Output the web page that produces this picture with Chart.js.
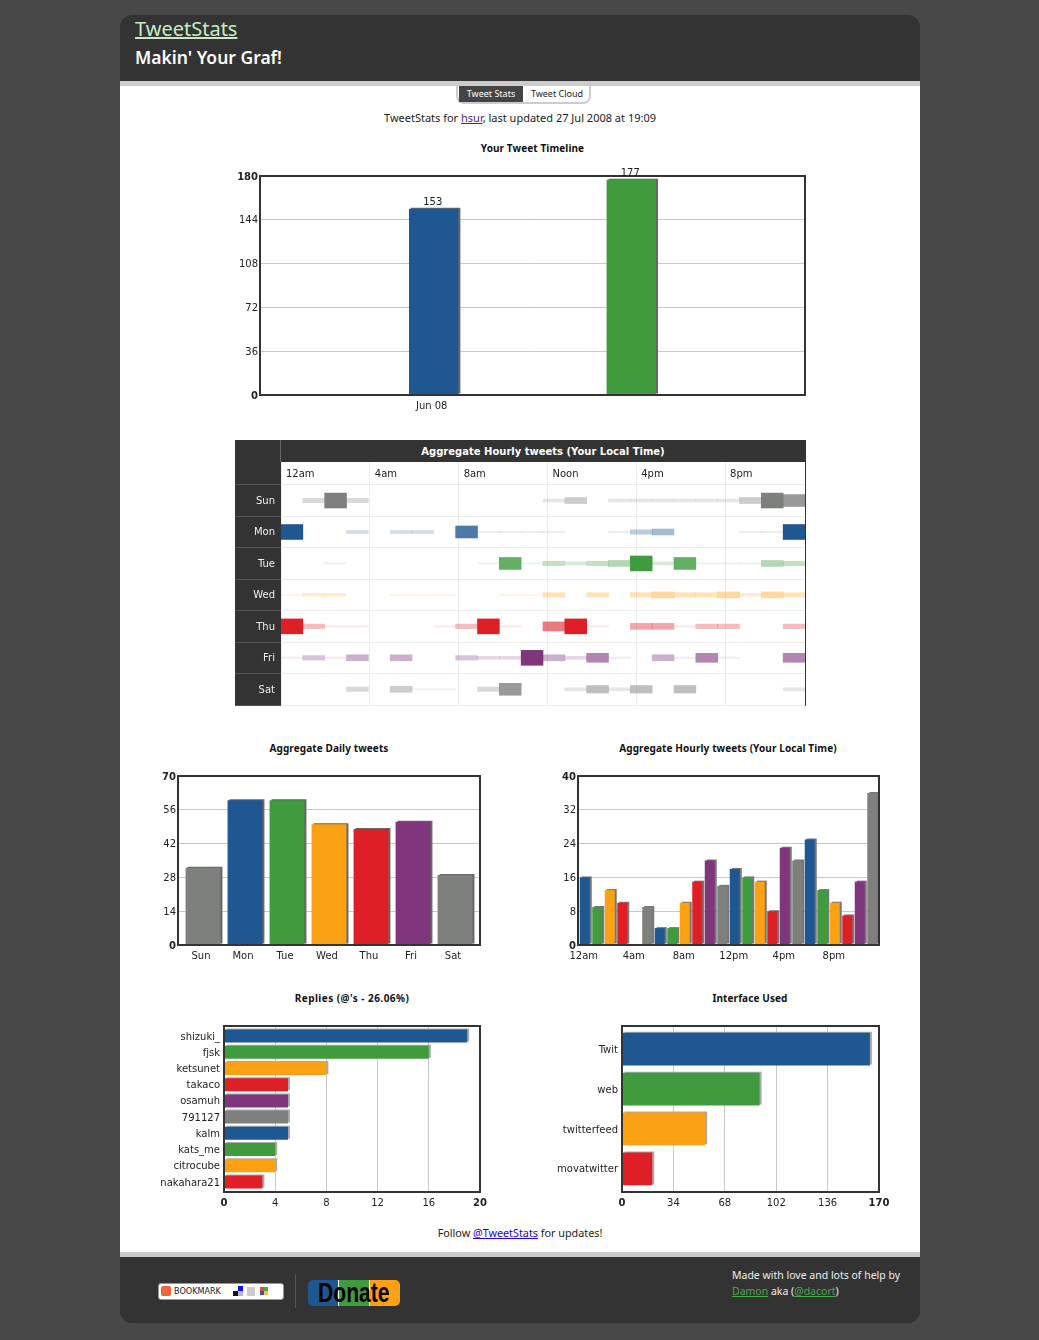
<!DOCTYPE html>
<html>
<head>
<meta charset="utf-8">
<title>TweetStats</title>
<script src="https://cdn.jsdelivr.net/npm/chart.js@4"></script>
<style>
html, body { margin: 0; padding: 0; background: #484848; }
body { position: relative; width: 1039px; height: 1340px; overflow: hidden; font-family: 'Noto Sans', sans-serif; font-size: 11px; color: #222; }
.abs { position: absolute; }
canvas { position: absolute; }
#head { left: 120px; top: 15px; width: 800px; height: 66px; background: #333; border-radius: 12px 12px 0 0; }
#head a { position: absolute; left: 15px; top: 0; font-size: 20px; color: #c6edc2; text-decoration: underline; }
#head b { position: absolute; left: 15px; top: 30px; font-size: 17.5px; font-weight: 600; color: #fff; }
#page { left: 120px; top: 81px; width: 800px; height: 1171px; background: #fff; border-top: 5px solid #ccc; }
#foot { left: 120px; top: 1252px; width: 800px; height: 66px; background: #333; border-top: 5px solid #ccc; border-radius: 0 0 12px 12px; }
#tabs { left: 456px; top: 86px; width: 131px; height: 16px; border: 2px solid #ccc; border-top: 0; border-radius: 0 0 8px 8px; background: #fff; font-size: 9px; line-height: 15px; }
#tabs span { position: absolute; top: 0; height: 16px; text-align: center; }
.center { width: 800px; left: 120px; text-align: center; }
.title { font-weight: 700; font-size: 10px; color: #111; text-align: center; letter-spacing: 0.1px; }
a.lnk { color: #2200dd; }
#punch { left: 235px; top: 440px; width: 571px; height: 266px; background: #333; }
#punchPlot { left: 46px; top: 22px; width: 524px; height: 243px; background: #fff; }
#punchTitle { left: 46px; top: 6px; width: 524px; color: #fff; font: bold 10px 'DejaVu Sans', sans-serif; text-align: center; }
#bookmark { left: 158px; top: 1283px; width: 124px; height: 15px; background: #fff; border: 1px solid #999; border-radius: 3px; font: 9px/15px 'DejaVu Sans Condensed', 'DejaVu Sans', sans-serif; color: #222; }
#bookmark i { position: absolute; display: block; }
#donate { left: 308px; top: 1280px; width: 92px; height: 26px; border-radius: 5px; background: linear-gradient(90deg, #1f5792 0 30px, #fff 30px 31px, #3f9b3e 31px 61px, #fff 61px 62px, #fca113 62px); color: #000; text-align: center; overflow: hidden; }
#donate span { display: inline-block; font: bold 27px/26px 'Liberation Sans', sans-serif; transform: scaleX(0.78); }
#madeby { left: 732px; top: 1267px; width: 180px; color: #eee; line-height: 16px; font-size: 10.5px; }
#madeby a { color: #4aa84a; }
</style>
</head>
<body>
<div class="abs" id="head"><a>TweetStats</a><b>Makin' Your Graf!</b></div>
<div class="abs" id="page"></div>
<div class="abs" id="foot"></div>

<div class="abs" id="tabs">
    <span style="left:1px;width:64px;background:#444;color:#fff">Tweet Stats</span>
    <span style="left:67px;width:64px;color:#222">Tweet Cloud</span>
</div>
<div class="abs center" style="top:110px">TweetStats for <a class="lnk" style="color:#551a8b;text-decoration:underline">hsur</a>, last updated 27 Jul 2008 at 19:09</div>

<div class="abs title" style="left:260px;top:141px;width:545px">Your Tweet Timeline</div>
<canvas id="timeline" width="625" height="255" style="left:200px;top:160px"></canvas>

<div class="abs" id="punch">
    <div class="abs" id="punchPlot"></div>
    <div class="abs" style="left:45px;top:0;width:1px;height:22px;background:#666"></div>
    <div class="abs" id="punchTitle">Aggregate Hourly tweets (Your Local Time)</div>
    <canvas id="heat" width="571" height="266" style="left:0;top:0"></canvas>
</div>

<div class="abs title" style="left:178px;top:741px;width:302px">Aggregate Daily tweets</div>
<canvas id="daily" width="360" height="205" style="left:138px;top:760px"></canvas>
<div class="abs title" style="left:578px;top:741px;width:300px">Aggregate Hourly tweets (Your Local Time)</div>
<canvas id="hourly" width="360" height="205" style="left:538px;top:760px"></canvas>

<div class="abs title" style="left:224px;top:991px;width:256px;letter-spacing:0.45px">Replies (@'s - 26.06%)</div>
<canvas id="replies" width="354" height="202" style="left:144px;top:1010px"></canvas>
<div class="abs title" style="left:622px;top:991px;width:256px">Interface Used</div>
<canvas id="iface" width="356" height="202" style="left:542px;top:1010px"></canvas>

<div class="abs center" style="top:1225px;font-size:10.8px">Follow <a class="lnk" style="text-decoration:underline">@TweetStats</a> for updates!</div>

<div class="abs" id="bookmark">
    <i style="left:2px;top:2px;width:10px;height:10px;background:#f0663a;border-radius:2px"></i>
    <span style="margin-left:15px">BOOKMARK</span>
    <i style="left:79px;top:2px;width:5px;height:5px;background:#11f"></i>
    <i style="left:74px;top:7px;width:5px;height:5px;background:#111"></i>
    <i style="left:79px;top:7px;width:5px;height:5px;background:#bbb"></i>
    <i style="left:88px;top:3px;width:8px;height:9px;background:#ccc"></i>
    <i style="left:101px;top:3px;width:4px;height:4px;background:#e44"></i>
    <i style="left:105px;top:3px;width:4px;height:4px;background:#4a4"></i>
    <i style="left:101px;top:7px;width:4px;height:4px;background:#44c"></i>
    <i style="left:105px;top:7px;width:4px;height:4px;background:#ec3"></i>
</div>
<div class="abs" style="left:295px;top:1274px;width:1px;height:34px;background:#555"></div>
<div class="abs" id="donate"><span>Donate</span></div>
<div class="abs" id="madeby">Made with love and lots of help by<br><a style="text-decoration:underline">Damon</a> aka (<a style="text-decoration:underline">@dacort</a>)</div>

<script>
// Colours
const BLUE = '#1f5792', GREEN = '#3f9b3e', ORANGE = '#fca113', RED = '#de2026', PURPLE = '#80367d', GRAY = '#7e807e';
const cycle = [BLUE, GREEN, ORANGE, RED, PURPLE, GRAY];

// Data
const timelineLabels = ['Jun 08', ''];
const timelineValues = [153, 177];

const dayLabels = ['Sun', 'Mon', 'Tue', 'Wed', 'Thu', 'Fri', 'Sat'];
const dayValues = [32, 60, 60, 50, 48, 51, 29];
const dayColors = [GRAY, BLUE, GREEN, ORANGE, RED, PURPLE, GRAY];

const hourValues = [16, 9, 13, 10, 0, 9, 4, 4, 10, 15, 20, 14, 18, 16, 15, 8, 23, 20, 25, 13, 10, 7, 15, 36];
const hourTicks = [0, 4, 8, 12, 16, 20];
const hourTickLabels = ['12am', '4am', '8am', '12pm', '4pm', '8pm'];

const replyNames = ['shizuki_', 'fjsk', 'ketsunet', 'takaco', 'osamuh', '791127', 'kalm', 'kats_me', 'citrocube', 'nakahara21'];
const replyValues = [19, 16, 8, 5, 5, 5, 5, 4, 4, 3];

const clientNames = ['Twit', 'web', 'twitterfeed', 'movatwitter'];
const clientValues = [164, 91, 55, 20];

// Punch card, strength of each hour per weekday (0 = no cell, 10 = full)
const heatTicks = [0, 4, 8, 12, 16, 20];
const heatTickLabels = ['12am', '4am', '8am', 'Noon', '4pm', '8pm'];
const sunHours = [0, 3, 10, 3, 0, 0, 0, 0, 0, 0, 0, 0, 2, 4, 0, 2, 2, 2, 2, 2, 2, 4, 10, 8];
const monHours = [10, 0, 0, 2, 0, 2, 2, 0, 8, 1, 1, 1, 1, 0, 0, 1, 3, 4, 0, 0, 0, 1, 1, 10];
const tueHours = [0, 0, 1, 0, 0, 0, 0, 0, 0, 1, 8, 1, 3, 2, 3, 4, 10, 2, 8, 1, 1, 1, 4, 3];
const wedHours = [1, 2, 2, 0, 0, 1, 1, 1, 0, 0, 1, 1, 3, 0, 3, 0, 3, 4, 3, 3, 4, 2, 4, 3];
const thuHours = [10, 3, 1, 1, 0, 0, 0, 1, 3, 10, 1, 0, 6, 10, 1, 0, 4, 4, 1, 3, 3, 0, 0, 3];
const friHours = [1, 3, 1, 4, 0, 4, 0, 0, 3, 2, 2, 10, 4, 2, 6, 1, 0, 4, 1, 6, 1, 0, 0, 6];
const satHours = [0, 0, 0, 3, 0, 4, 1, 1, 0, 3, 8, 0, 0, 2, 5, 2, 5, 0, 5, 0, 0, 0, 0, 2];
const hoursByDay = [sunHours, monHours, tueHours, wedHours, thuHours, friHours, satHours];

const TICK_FONT = "'DejaVu Sans', sans-serif";

// grey edge behind every bar
Chart.register({
    id: 'barShadow',
    beforeDatasetDraw(chart, args, opts) {
        const ctx = chart.ctx;
        ctx.save();
        ctx.shadowColor = opts.color;
        ctx.shadowBlur = 0;
        ctx.shadowOffsetX = 2;
        ctx.shadowOffsetY = -1;
    },
    afterDatasetDraw(chart) {
        chart.ctx.restore();
    }
});

// dark box round the plot
Chart.register({
    id: 'plotFrame',
    afterDatasetsDraw(chart) {
        const a = chart.chartArea, ctx = chart.ctx;
        ctx.save();
        ctx.strokeStyle = '#333';
        ctx.lineWidth = 2;
        ctx.strokeRect(a.left, a.top, a.right - a.left, a.bottom - a.top);
        ctx.restore();
    }
});

// number on top of each bar, timeline only
const valueLabels = {
    id: 'valueLabels',
    afterDraw(chart) {
        const ctx = chart.ctx;
        ctx.save();
        ctx.font = '10px ' + TICK_FONT;
        ctx.fillStyle = '#222';
        ctx.textAlign = 'center';
        chart.getDatasetMeta(0).data.forEach((bar, i) => {
            ctx.fillText(timelineValues[i], bar.x - 1, bar.y - 4);
        });
        ctx.restore();
    }
};

function makeBarChart(id, o) {
    const catAxis = o.horizontal ? 'y' : 'x';
    const valAxis = o.horizontal ? 'x' : 'y';
    const lastValue = o.max;
    const tickColor = '#222';

    return new Chart(document.getElementById(id), {
        type: 'bar',
        plugins: o.plugins || [],
        data: {
            labels: o.values.map((v, i) => i),
            datasets: [{
                data: o.values,
                backgroundColor: o.colors,
                barPercentage: o.barPct,
                categoryPercentage: 1
            }]
        },
        options: {
            indexAxis: catAxis,
            responsive: false,
            animation: false,
            layout: { padding: { top: o.padTop, right: o.padRight, left: 0, bottom: 0 } },
            plugins: {
                legend: { display: false },
                tooltip: { enabled: false },
                title: { display: false },
                barShadow: { color: o.shadow }
            },
            scales: {
                [catAxis]: {
                    type: 'linear',
                    offset: false,
                    min: o.catMin,
                    max: o.catMax,
                    reverse: !!o.horizontal,
                    grid: { display: false, drawTicks: false, offset: false },
                    border: { display: false },
                    afterBuildTicks: axis => { axis.ticks = o.tickAt.map(v => ({ value: v })); },
                    afterFit: axis => {
                        if (o.horizontal) axis.width = o.axisW; else axis.height = o.axisH;
                    },
                    ticks: {
                        autoSkip: false,
                        maxRotation: 0,
                        padding: o.horizontal ? 4 : 5,
                        labelOffset: o.labelShift,
                        color: tickColor,
                        font: { family: TICK_FONT, size: 10 },
                        callback: v => o.tickText[o.tickAt.indexOf(v)]
                    }
                },
                [valAxis]: {
                    min: 0,
                    max: o.max,
                    grid: { color: '#c8c8c8', drawTicks: false },
                    border: { display: false },
                    afterFit: axis => {
                        if (o.horizontal) axis.height = o.axisH; else axis.width = o.axisW;
                    },
                    ticks: {
                        stepSize: o.step,
                        padding: o.horizontal ? 5 : 2,
                        labelOffset: o.horizontal ? 0 : 1,
                        color: tickColor,
                        font: ctx => {
                            const ends = ctx.tick && (ctx.tick.value === 0 || ctx.tick.value === lastValue);
                            return { family: TICK_FONT, size: 10, weight: ends ? 'bold' : 'normal' };
                        }
                    }
                }
            }
        }
    });
}

makeBarChart('timeline', {
    values: timelineValues, colors: [BLUE, GREEN], shadow: '#666',
    tickAt: [0, 1], tickText: timelineLabels,
    catMin: -0.879, catMax: 1.879, barPct: 0.25, labelShift: -2,
    max: 180, step: 36,
    axisW: 60, axisH: 20, padTop: 16, padRight: 20,
    plugins: [valueLabels]
});

makeBarChart('daily', {
    values: dayValues, colors: dayColors, shadow: '#666',
    tickAt: dayValues.map((v, i) => i), tickText: dayLabels,
    catMin: -0.595, catMax: 6.595, barPct: 0.83, labelShift: -2,
    max: 70, step: 14,
    axisW: 40, axisH: 20, padTop: 16, padRight: 18
});

makeBarChart('hourly', {
    values: hourValues, colors: hourValues.map((v, i) => cycle[i % cycle.length]), shadow: '#777',
    tickAt: hourTicks, tickText: hourTickLabels,
    catMin: -0.54, catMax: 23.54, barPct: 0.8, labelShift: -1,
    max: 40, step: 8,
    axisW: 40, axisH: 20, padTop: 16, padRight: 19
});

makeBarChart('replies', {
    horizontal: true,
    values: replyValues, colors: replyValues.map((v, i) => cycle[i % cycle.length]), shadow: '#aaa',
    tickAt: replyValues.map((v, i) => i), tickText: replyNames,
    catMin: -0.617, catMax: 9.617, barPct: 0.8, labelShift: 1,
    max: 20, step: 4,
    axisW: 80, axisH: 20, padTop: 16, padRight: 18
});

makeBarChart('iface', {
    horizontal: true,
    values: clientValues, colors: cycle, shadow: '#aaa',
    tickAt: clientValues.map((v, i) => i), tickText: clientNames,
    catMin: -0.58, catMax: 3.58, barPct: 0.82, labelShift: 1,
    max: 170, step: 34,
    axisW: 80, axisH: 20, padTop: 16, padRight: 19
});

// Punch card: one floating bar per hour, thicker and darker with the value
function withAlpha(hex, a) {
    const n = parseInt(hex.slice(1), 16);
    return `rgba(${n >> 16}, ${(n >> 8) & 255}, ${n & 255}, ${a})`;
}

new Chart(document.getElementById('heat'), {
    type: 'bar',
    data: {
        labels: sunHours.map((v, i) => i + 0.5),
        datasets: hoursByDay.map((hours, row) => ({
            data: hours.map(v => v ? [row + 0.5 - v * 0.0237, row + 0.5 + v * 0.0237] : null),
            backgroundColor: hours.map(v => withAlpha(dayColors[row], v / 10)),
            barPercentage: 1,
            categoryPercentage: 1,
            grouped: false
        }))
    },
    options: {
        responsive: false,
        animation: false,
        layout: { padding: { top: 22, right: 1, bottom: 1, left: 0 } },
        plugins: {
            legend: { display: false },
            tooltip: { enabled: false },
            barShadow: false,
            plotFrame: false
        },
        scales: {
            x: { type: 'linear', offset: false, grid: { offset: false }, min: 0, max: 24, display: false },
            x2: {
                type: 'linear',
                position: 'top',
                offset: false,
                min: 0,
                max: 23.6,
                grid: { color: '#ececec', drawTicks: false, offset: false },
                border: { display: false },
                afterBuildTicks: axis => { axis.ticks = heatTicks.map(v => ({ value: v })); },
                afterFit: axis => { axis.height = 0; },
                ticks: {
                    autoSkip: false,
                    maxRotation: 0,
                    align: 'start',
                    mirror: true,
                    labelOffset: 5,
                    padding: 6.5,
                    color: '#222',
                    font: { family: TICK_FONT, size: 10 },
                    callback: v => heatTickLabels[heatTicks.indexOf(v)]
                }
            },
            y: {
                type: 'linear',
                reverse: true,
                min: -0.725,
                max: 7,
                border: { display: false },
                grid: { color: '#ececec', tickColor: '#555', tickLength: 46 },
                afterBuildTicks: axis => { axis.ticks = [0, 1, 2, 3, 4, 5, 6, 7].map(v => ({ value: v })); },
                afterFit: axis => { axis.width = 46; },
                ticks: {
                    padding: -40,
                    labelOffset: 16.5,
                    color: '#eee',
                    font: { family: TICK_FONT, size: 10 },
                    callback: v => dayLabels[v] || ''
                }
            }
        }
    }
});
</script>
</body>
</html>
